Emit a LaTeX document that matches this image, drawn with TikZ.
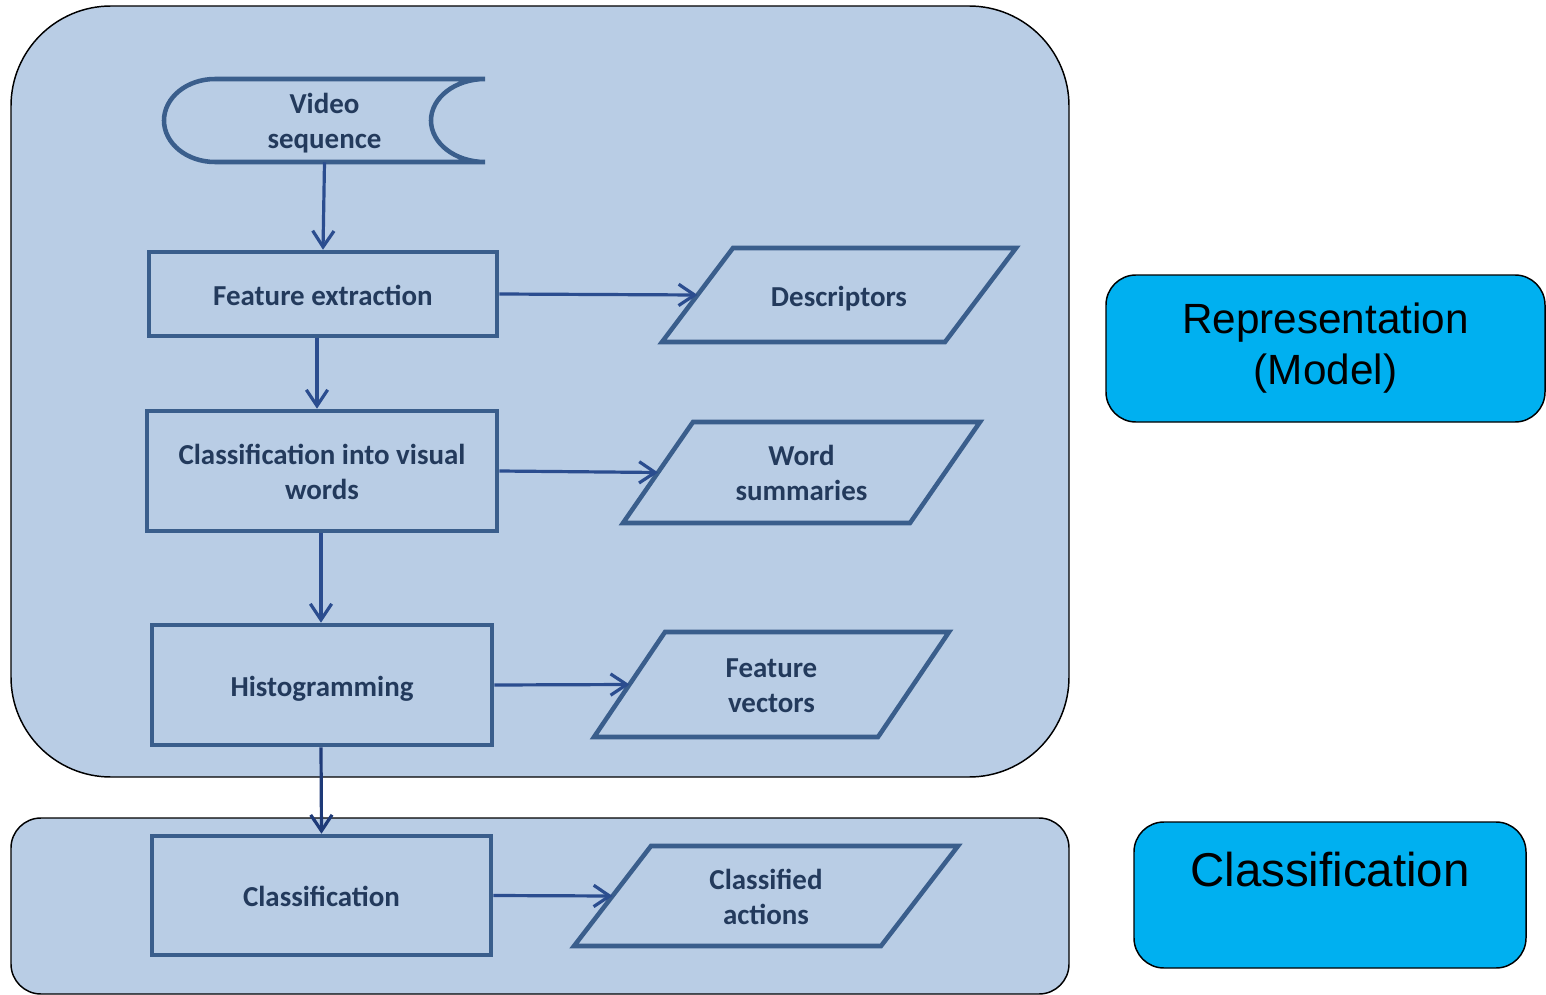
\documentclass[tikz,border=0pt]{standalone}
\usepackage{fontspec}
\setmainfont{Carlito}
\newfontfamily\arialfont{Liberation Sans}
\usetikzlibrary{arrows.meta}
\definecolor{panelfill}{HTML}{B9CDE5}
\definecolor{boxline}{HTML}{3A5E8C}
\definecolor{textc}{HTML}{233A5C}
\definecolor{arrowc}{HTML}{2B4D8F}
\definecolor{arrowdark}{HTML}{1E3A78}
\definecolor{tagfill}{HTML}{00B0F0}
\tikzset{
  px/.style 2 args={minimum width=#1*0.75pt, minimum height=#2*0.75pt},
  panel/.style={rectangle, draw=black, line width=1.1pt, fill=panelfill, inner sep=0pt},
  boxfont/.style={text=textc, font=\fontsize{21.7}{26.25}\selectfont\bfseries, align=center},
  oneline/.style={text height=21.7pt, text depth=4.8pt},
  twolines/.style={text height=47.2pt, text depth=4.8pt},
  stepbox/.style={rectangle, draw=boxline, line width=3.4pt, inner sep=0pt, boxfont},
  databox/.style={rectangle, inner sep=0pt, outer sep=0pt, boxfont},
  dataline/.style={draw=boxline, line width=3.4pt},
  flow/.style={draw=arrowc, line width=2.4pt, -{Straight Barb[length=12pt,width=16pt]}},
  tag/.style={rectangle, draw=black, line width=1.1pt, fill=tagfill, rounded corners=22.5pt,
    align=center, font=\arialfont\fontsize{31.7}{38.25}\selectfont},
}
\begin{document}
\begin{tikzpicture}[x=0.75pt,y=-0.75pt]
\useasboundingbox (0,0) rectangle (1546,995);

% stage panels
\node[panel, rounded corners=75pt, px={1058}{771}] (modelpanel) at (540,391.5) {};
\node[panel, rounded corners=22.5pt, px={1058}{176}] (classpanel) at (540,906) {};

% stage tags on the right
\node[tag, px={439}{147}] (reptag) at (1325.5,348.5) {Representation\\(Model)};
\node[tag, px={392}{146}, font=\arialfont\fontsize{35.6}{38.25}\selectfont] (clstag) at (1330,895) {Classification\\\mbox{}};

% video input (stored data symbol)
\node[boxfont, twolines, px={321}{83}, inner sep=0pt] (vid) at (324.5,120.5) {Video\\sequence};
\draw[boxline, line width=3.4pt]
  (485,79) -- (215,79)
  .. controls (186.8,79) and (164,97.6) .. (164,120.5)
  .. controls (164,143.4) and (186.8,162) .. (215,162)
  -- (485,162)
  .. controls (455.2,162) and (431,143.4) .. (431,120.5)
  .. controls (431,97.6) and (455.2,79) .. (485,79);

% processing steps
\node[stepbox, oneline, px={348}{84}] (fe) at (323,294) {Feature extraction};
\node[stepbox, twolines, px={350}{120}] (ciw) at (322,471) {Classification into visual\\words};
\node[stepbox, oneline, px={340}{120}] (hist) at (322,685) {Histogramming};
\node[stepbox, oneline, px={339}{119}] (cls) at (321.5,895.5) {Classification};

% intermediate data (parallelograms around the text nodes)
\node[databox, oneline, px={354}{94}] (desc) at (839,295) {Descriptors};
\draw[dataline] ([xshift=53.25pt]desc.north west) -- (desc.north east)
  -- ([xshift=-53.25pt]desc.south east) -- (desc.south west) -- cycle;
\coordinate (descin) at ([xshift=26.6pt]desc.west);

\node[databox, twolines, px={357}{101}] (word) at (801.5,472.5) {Word\\summaries};
\draw[dataline] ([xshift=52.5pt]word.north west) -- (word.north east)
  -- ([xshift=-52.5pt]word.south east) -- (word.south west) -- cycle;
\coordinate (wordin) at ([xshift=26.25pt]word.west);

\node[databox, twolines, px={355}{105}] (fv) at (771.5,684.5) {Feature\\vectors};
\draw[dataline] ([xshift=53.25pt]fv.north west) -- (fv.north east)
  -- ([xshift=-53.25pt]fv.south east) -- (fv.south west) -- cycle;
\coordinate (fvin) at ([xshift=26.6pt]fv.west);

\node[databox, twolines, px={384}{100}] (ca) at (766,896) {Classified\\actions};
\draw[dataline] ([xshift=57.75pt]ca.north west) -- (ca.north east)
  -- ([xshift=-57.75pt]ca.south east) -- (ca.south west) -- cycle;
\coordinate (cain) at ([xshift=28.9pt]ca.west);

% flow
\draw[flow] (vid.south) -- (fe.north);
\draw[flow] ([xshift=-4.5pt]fe.south) -- ([xshift=-3.75pt]ciw.north);
\draw[flow] ([xshift=-0.75pt]ciw.south) -- ([xshift=-0.75pt]hist.north);
\draw[flow, draw=arrowdark] ([xshift=-0.75pt]hist.south) -- (cls.north);
\draw[flow] (fe.east) -- (descin);
\draw[flow] (ciw.east) -- (wordin);
\draw[flow] (hist.east) -- (fvin);
\draw[flow] (cls.east) -- (cain);
\end{tikzpicture}
\end{document}
